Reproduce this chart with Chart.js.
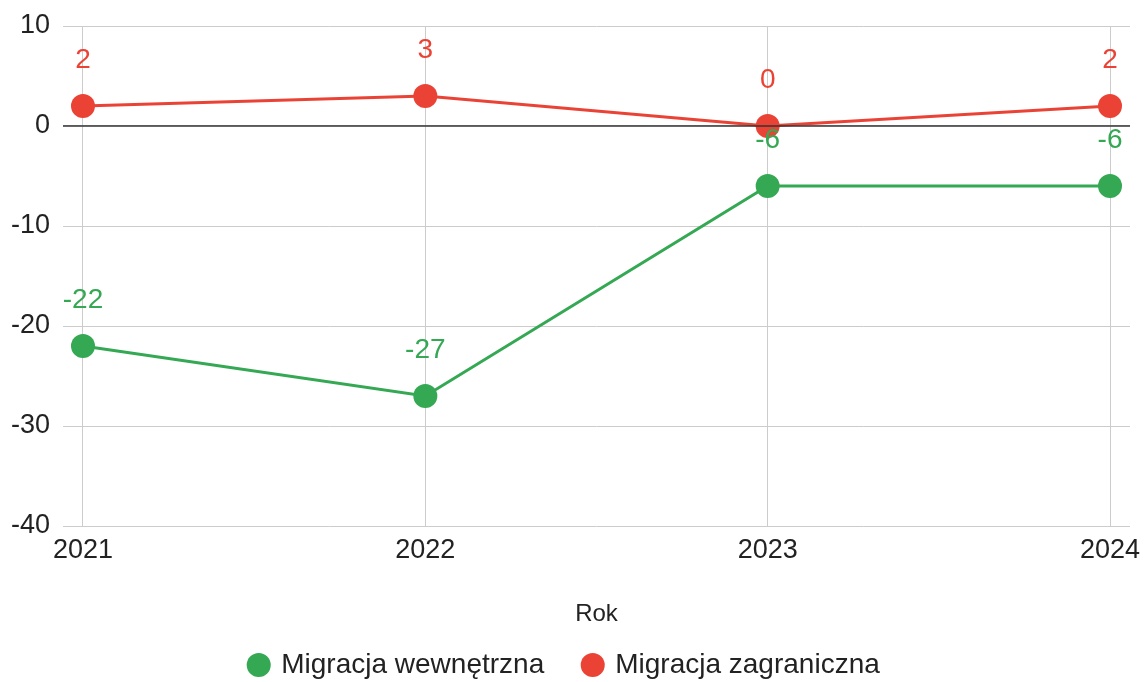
<!DOCTYPE html>
<html>
<head>
<meta charset="utf-8">
<script src="https://cdn.jsdelivr.net/npm/chart.js@4.4.1/dist/chart.umd.min.js"></script>
<style>
  html, body { margin: 0; padding: 0; background: #fff; }
  #wrap { width: 1145px; height: 682px; }
</style>
</head>
<body>
<div id="wrap"><canvas id="myChart" width="1145" height="682"></canvas></div>
<script>
// dane
const years = [2021, 2022, 2023, 2024];
const migracjaWewnetrzna = [-22, -27, -6, -6];
const migracjaZagraniczna = [2, 3, 0, 2];
const yTicks = [10, 0, -10, -20, -30, -40];

const GREEN = '#34A853';
const RED = '#EA4335';
const FONT = "'Liberation Sans', Arial, sans-serif";

// etykiety wartosci nad punktami + linia zera
const valueLabels = {
    id: 'valueLabels',
    afterDatasetsDraw(chart) {
        const ctx = chart.ctx;
        const area = chart.chartArea;
        const y0 = chart.scales.y.getPixelForValue(0);
        ctx.save();
        ctx.strokeStyle = '#333';
        ctx.lineWidth = 1.5;
        ctx.beginPath();
        ctx.moveTo(area.left, y0);
        ctx.lineTo(area.right, y0);
        ctx.stroke();

        ctx.font = '28px ' + FONT;
        ctx.textAlign = 'center';
        ctx.textBaseline = 'middle';
        chart.data.datasets.forEach((ds, i) => {
            const meta = chart.getDatasetMeta(i);
            ctx.fillStyle = ds.borderColor;
            meta.data.forEach((pt, j) => {
                ctx.fillText(String(ds.data[j].y), pt.x, pt.y - 46);
            });
        });
        ctx.restore();
    }
};

new Chart(document.getElementById('myChart'), {
    type: 'line',
    data: {
        datasets: [{
            label: 'Migracja wewnętrzna',
            data: years.map((r, i) => ({ x: r, y: migracjaWewnetrzna[i] })),
            borderColor: GREEN,
            backgroundColor: GREEN,
            borderWidth: 3,
            pointRadius: 12,
            pointHoverRadius: 12,
            pointBorderWidth: 0
        }, {
            label: 'Migracja zagraniczna',
            data: years.map((r, i) => ({ x: r, y: migracjaZagraniczna[i] })),
            borderColor: RED,
            backgroundColor: RED,
            borderWidth: 3,
            pointRadius: 12,
            pointHoverRadius: 12,
            pointBorderWidth: 0
        }]
    },
    options: {
        responsive: false,
        animation: false,
        layout: { padding: { top: 26, right: 15, left: 0, bottom: 0 } },
        scales: {
            x: {
                type: 'linear',
                min: 2020.9416,
                max: 2024.0584,
                afterBuildTicks: (scale) => { scale.ticks = years.map(v => ({ value: v })); },
                afterFit: (scale) => {
                    scale.height = 85;
                    scale.paddingLeft = 0;
                    scale.paddingRight = 0;
                },
                grid: { color: '#cccccc', drawTicks: false },
                border: { display: false },
                ticks: {
                    padding: 8,
                    color: '#222',
                    font: { family: FONT, size: 27 },
                    callback: (v) => String(v)
                },
                title: {
                    display: true,
                    text: 'Rok',
                    color: '#222',
                    font: { family: FONT, size: 24 },
                    padding: { top: 0, bottom: -18 }
                }
            },
            y: {
                min: -40,
                max: 10,
                afterBuildTicks: (scale) => { scale.ticks = yTicks.map(v => ({ value: v })); },
                afterFit: (scale) => {
                    scale.width = 63;
                    scale.paddingTop = 0;
                    scale.paddingBottom = 0;
                },
                grid: { color: '#cccccc', drawTicks: false },
                border: { display: false },
                ticks: {
                    padding: 13,
                    color: '#222',
                    font: { family: FONT, size: 27 }
                }
            }
        },
        plugins: {
            tooltip: { enabled: false },
            legend: {
                position: 'bottom',
                maxHeight: 71,
                labels: {
                    usePointStyle: true,
                    pointStyle: 'circle',
                    boxWidth: 17,
                    boxHeight: 17,
                    padding: 40,
                    color: '#222',
                    font: { family: FONT, size: 28 }
                }
            }
        }
    },
    plugins: [valueLabels]
});
</script>
</body>
</html>
